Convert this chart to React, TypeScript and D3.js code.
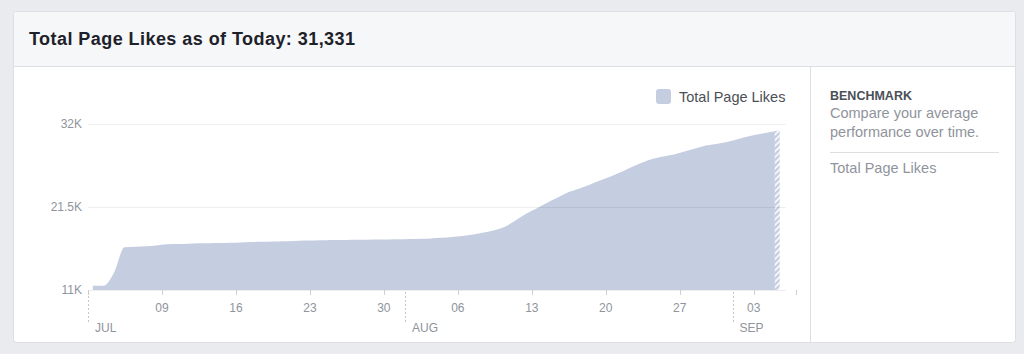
import React from "react";
import * as d3 from "d3";

// daily totals, Jul 2 -> Sep 5 (last day is still in progress)
const likes = [
  11540, 11540, 13190, 16400, 16460, 16540, 16630, 16780, 16820, 16860,
  16900, 16920, 16945, 16985, 17020, 17060, 17100, 17135, 17170, 17210,
  17250, 17275, 17300, 17325, 17340, 17350, 17360, 17375, 17390, 17410,
  17440, 17475, 17530, 17600, 17720, 17840, 18020, 18270, 18560, 19010,
  19790, 20640, 21310, 22030, 22700, 23370, 23800, 24320, 24840, 25360,
  25940, 26560, 27130, 27610, 27890, 28130, 28510, 28890, 29270, 29470,
  29720, 30080, 30430, 30710, 30960, 31200,
];
const yTicks = [11000, 21500, 32000];
const monthLabels = ["JUL", "AUG", "SEP"];
const title = "Total Page Likes as of Today: 31,331";
const seriesName = "Total Page Likes";

const W = 1024;
const H = 354;
const FONT = "'Liberation Sans', Arial, Helvetica, sans-serif";
const AREA = "#c5cde1";
const GRAY = "#90949c";
const LINE = "#dddfe2";

const startDay = new Date(2018, 6, 2);
const endDay = new Date(2018, 8, 7);
const data = likes.map((v, i) => ({ date: d3.timeHour.offset(d3.timeDay.offset(startDay, i), 11), value: v }));

export default function App() {
  const x = d3.scaleTime().domain([startDay, endDay]).range([88, 796]);
  const y = d3.scaleLinear().domain([11000, 32000]).range([290, 124]);

  const area = d3.area<{ date: Date; value: number }>()
    .x(d => x(d.date))
    .y0(y(11000))
    .y1(d => y(d.value))
    .curve(d3.curveMonotoneX);

  const last = data[data.length - 1].date;
  const hatchStart = x(d3.timeHour.offset(last, -11));
  const gridEnd = x(d3.timeDay.offset(last, 0.5)) + 6;

  const weekTicks = d3.timeMonday.range(d3.timeDay.offset(startDay, 1), endDay);
  const tickMarks = [startDay, ...weekTicks, endDay];
  const months = [startDay, new Date(2018, 7, 1), new Date(2018, 8, 1)];

  return (
    <svg width={W} height={H} style={{ display: "block" }}>
      <style>{`body{margin:0}`}</style>
      <defs>
        <pattern id="hatch" width="4" height="4" patternUnits="userSpaceOnUse" patternTransform="rotate(45)">
          <rect width="4" height="4" fill="#fff" />
          <rect width="2.4" height="4" fill={AREA} />
        </pattern>
        <clipPath id="solid">
          <rect x={0} y={0} width={hatchStart} height={H} />
        </clipPath>
        <clipPath id="partial">
          <rect x={hatchStart} y={0} width={W} height={H} />
        </clipPath>
      </defs>

      <rect width={W} height={H} fill="#e9ebee" />
      <rect x={13.5} y={11.5} width={1002} height={331} rx={3} fill="#fff" stroke={LINE} />
      <path d="M14,66 V15 a3,3 0 0 1 3,-3 H1012 a3,3 0 0 1 3,3 V66 Z" fill="#f6f7f9" />
      <line x1={13.5} x2={1015.5} y1={66.5} y2={66.5} stroke={LINE} />
      <line x1={810.5} x2={810.5} y1={67} y2={342} stroke={LINE} />

      <text x={29} y={39} dy="0.36em" fontFamily={FONT} fontSize={18} fontWeight={700} fill="#1d2129"
        textLength={326} lengthAdjust="spacing">
        {title}
      </text>

      {/* area */}
      <path d={area(data) ?? ""} fill={AREA} clipPath="url(#solid)" />
      <path d={area(data) ?? ""} fill="url(#hatch)" clipPath="url(#partial)" />

      {/* grid + y labels */}
      {yTicks.map(t => (
        <g key={t}>
          <line x1={88} x2={gridEnd} y1={y(t) + 0.5} y2={y(t) + 0.5} stroke="rgba(29,33,41,0.08)" />
          <text x={82} y={y(t)} dy="0.35em" textAnchor="end" fontFamily={FONT} fontSize={12} fill={GRAY}>
            {`${t / 1000}K`}
          </text>
        </g>
      ))}

      {/* x axis */}
      {tickMarks.map((d, i) => (
        <line key={i} x1={Math.round(x(d)) + 0.5} x2={Math.round(x(d)) + 0.5} y1={290} y2={295} stroke="#ccd0d5" />
      ))}
      {weekTicks.map((d, i) => (
        <text key={i} x={x(d)} y={308} dy="0.35em" textAnchor="middle" fontFamily={FONT} fontSize={12} fill={GRAY}>
          {d3.timeFormat("%d")(d)}
        </text>
      ))}
      {months.map((d, i) => {
        const mx = i === 0 ? 88 : x(d);
        return (
          <g key={i}>
            <line x1={Math.round(mx) + 0.5} x2={Math.round(mx) + 0.5} y1={292} y2={322} stroke="#c4c8ce" strokeDasharray="2,2" />
            <text x={mx + 7} y={328} dy="0.35em" fontFamily={FONT} fontSize={12} fill={GRAY}>
              {monthLabels[i]}
            </text>
          </g>
        );
      })}

      {/* legend */}
      <rect x={656} y={89} width={15} height={15} rx={3} fill={AREA} />
      <text x={679} y={96.5} dy="0.35em" fontFamily={FONT} fontSize={14.5} fill="#4b4f56">
        {seriesName}
      </text>

      {/* benchmark panel */}
      <text x={830} y={96} dy="0.35em" fontFamily={FONT} fontSize={12.5} fontWeight={700} fill="#4b4f56">
        BENCHMARK
      </text>
      <text x={830} y={113} dy="0.35em" fontFamily={FONT} fontSize={14.5} fill={GRAY}>
        Compare your average
      </text>
      <text x={830} y={132} dy="0.35em" fontFamily={FONT} fontSize={14.5} fill={GRAY}>
        performance over time.
      </text>
      <line x1={830} x2={999} y1={152.5} y2={152.5} stroke={LINE} />
      <text x={830} y={168} dy="0.35em" fontFamily={FONT} fontSize={14.5} fill={GRAY}>
        {seriesName}
      </text>
    </svg>
  );
}
